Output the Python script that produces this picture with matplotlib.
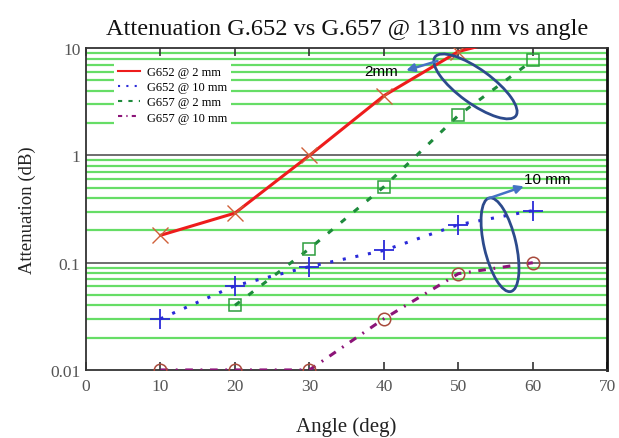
import numpy as np
import matplotlib.pyplot as plt
import matplotlib.transforms as transforms
from matplotlib.patches import Ellipse
from matplotlib.lines import Line2D

# -----------------------------------------------------------------------------
# Data (G657 @ 2 mm has no point at 10 deg)
angle = [10, 20, 30, 40, 50, 60]
g652_2mm = [0.18, 0.29, 1.0, 3.6, 9.3, 14.0]
g652_10mm = [0.030, 0.061, 0.092, 0.13, 0.226, 0.306]
g657_2mm = [np.nan, 0.04, 0.135, 0.51, 2.36, 7.7]
g657_10mm = [0.01, 0.01, 0.01, 0.03, 0.079, 0.10]

xticks = [0, 10, 20, 30, 40, 50, 60, 70]
yticks = [0.01, 0.1, 1, 10]
yticklabels = ['0.01', '0.1', '1', '10']

labels = ['G652 @ 2 mm', 'G652 @ 10 mm', 'G657 @ 2 mm', 'G657 @ 10 mm']

# -----------------------------------------------------------------------------
fig = plt.figure(figsize=(6.19, 4.39), dpi=100)
ax = fig.add_axes([0.139, 0.155, 0.842, 0.733])

serif = ['Liberation Serif', 'DejaVu Serif']

ax.set_yscale('log')
ax.set_xlim(0, 70)
ax.set_ylim(0.01, 10)

# green minor grid, gray decade lines
for dec in [0.01, 0.1, 1]:
    for k in range(2, 10):
        ax.axhline(dec * k, color='#66dd66', lw=1.6, zorder=0)
for v in [0.1, 1]:
    ax.axhline(v, color='#555555', lw=1.2, zorder=0.5)

# series lines
ax.plot(angle, g652_2mm, color='#ee1c1c', lw=2.2, ls='-', zorder=3)
ax.plot(angle, g652_2mm, ls='none', marker='x', ms=11, mew=1.0,
        color='#d0603a', zorder=4)

ax.plot(angle, g652_10mm, color='#2a2ad8', lw=2.2, ls=(0, (1, 3.2)),
        zorder=3)
ax.plot(angle, g652_10mm, ls='none', marker='+', ms=14, mew=1.3,
        color='#2a2ad8', zorder=4)

ax.plot(angle, g657_2mm, color='#1e8a3c', lw=2.2, ls=(0, (2, 3.5)),
        zorder=3)
ax.plot(angle, g657_2mm, ls='none', marker='s', ms=9, mew=1.1,
        mfc='none', mec='#2e9e3e', zorder=4)

ax.plot(angle, g657_10mm, color='#8c1478', lw=2.2,
        ls=(0, (2.5, 2.5, 0.6, 2.5)), zorder=3)
ax.plot(angle, g657_10mm, ls='none', marker='o', ms=9, mew=1.1,
        mfc='none', mec='#a84a3c', zorder=4)

# legend (lines only)
handles = [
    Line2D([], [], color='#ee1c1c', lw=1.5, ls='-'),
    Line2D([], [], color='#2a2ad8', lw=1.5, ls=(0, (1, 3))),
    Line2D([], [], color='#1e8a3c', lw=1.5, ls=(0, (2, 3))),
    Line2D([], [], color='#8c1478', lw=1.5, ls=(0, (2, 2, 0.6, 2))),
]
leg = ax.legend(handles, labels, loc='upper left',
                bbox_to_anchor=(0.042, 0.975), frameon=True, fancybox=False,
                framealpha=1, edgecolor='none', facecolor='white',
                handlelength=1.8, handletextpad=0.5, labelspacing=0.25,
                borderpad=0.3, prop={'family': serif, 'size': 9})
leg.set_zorder(5)

# ticks and spines
ax.set_xticks(xticks)
ax.set_yticks(yticks)
ax.set_yticklabels(yticklabels)
ax.yaxis.set_minor_locator(plt.NullLocator())
ax.tick_params(axis='x', direction='in', top=True, bottom=True, length=6,
               width=1.2, color='#333333', pad=6, labelsize=12.5,
               labelcolor='#555555')
ax.tick_params(axis='y', length=0, pad=4, labelsize=12.5,
               labelcolor='#555555')
for lab in ax.get_xticklabels() + ax.get_yticklabels():
    lab.set_family(serif)
for sp in ax.spines.values():
    sp.set_color('#333333')
    sp.set_linewidth(1.3)
ax.spines['right'].set_color('#111111')
ax.spines['right'].set_linewidth(2)

ax.set_title('Attenuation G.652 vs G.657 @ 1310 nm vs angle', family=serif,
             fontsize=17.5, color='#111111', pad=10)
ax.set_xlabel('Angle (deg)', family=serif, fontsize=15, color='#222222',
              labelpad=16)
ax.set_ylabel('Attenuation (dB)', family=serif, fontsize=13.5,
              color='#222222', labelpad=10)

# -----------------------------------------------------------------------------
# Highlight ellipses and callouts
def addEllipse(x, y, w, h, angleDeg):
    trans = fig.dpi_scale_trans + transforms.ScaledTranslation(x, y,
                                                               ax.transData)
    e = Ellipse((0, 0), w, h, angle=angleDeg, fill=False,
                edgecolor='#2c4a8c', lw=2, transform=trans, zorder=6,
                clip_on=False)
    ax.add_patch(e)


addEllipse(52.3, 4.4, 1.0, 0.34, -36)
addEllipse(55.6, 0.147, 0.96, 0.32, 103)

arrowProps = dict(arrowstyle='-|>', color='#4472c4', lw=1.8,
                  mutation_scale=12, shrinkA=0, shrinkB=0)
ax.annotate('', xy=(43.0, 6.2), xytext=(47.2, 7.6), arrowprops=arrowProps,
            zorder=6)
ax.annotate('', xy=(58.8, 0.515), xytext=(54.0, 0.396), arrowprops=arrowProps,
            zorder=6)
ax.text(39.6, 6.1, '2mm', family='Liberation Sans', fontsize=11,
        ha='center', va='center', zorder=6)
ax.text(61.9, 0.6, '10 mm', family='Liberation Sans', fontsize=11,
        ha='center', va='center', zorder=6)

fig.savefig('out.png', dpi=100)
